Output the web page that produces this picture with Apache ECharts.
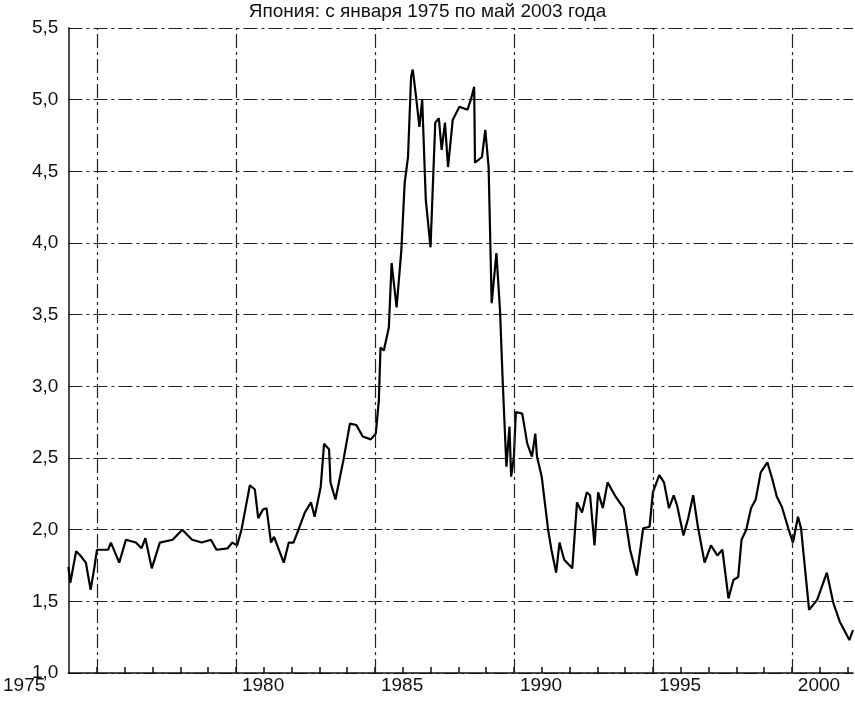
<!DOCTYPE html>
<html><head><meta charset="utf-8">
<script src="https://cdn.jsdelivr.net/npm/echarts@6/dist/echarts.min.js"></script>
<style>html,body{margin:0;background:#fff}#c{width:855px;height:719px}</style>
</head><body><div id="c"></div>
<script>
const titleText = 'Япония: с января 1975 по май 2003 года';
const years = [1973.97,1974.04,1974.25,1974.4,1974.6,1974.77,1974.9,1975.0,1975.4,1975.5,1975.8,1976.04,1976.4,1976.6,1976.74,1976.97,1977.26,1977.72,1978.07,1978.42,1978.77,1979.1,1979.3,1979.7,1979.87,1980.04,1980.2,1980.5,1980.68,1980.8,1980.97,1981.1,1981.26,1981.37,1981.72,1981.9,1982.07,1982.25,1982.48,1982.7,1982.83,1983.05,1983.17,1983.35,1983.4,1983.58,1983.87,1984.1,1984.33,1984.56,1984.85,1985.03,1985.14,1985.2,1985.32,1985.5,1985.6,1985.78,1985.95,1986.07,1986.19,1986.3,1986.36,1986.48,1986.6,1986.7,1986.83,1987.0,1987.17,1987.3,1987.4,1987.52,1987.63,1987.8,1988.04,1988.33,1988.45,1988.57,1988.6,1988.85,1988.97,1989.09,1989.2,1989.37,1989.5,1989.6,1989.73,1989.84,1989.9,1990.0,1990.07,1990.3,1990.48,1990.65,1990.77,1990.83,1991.0,1991.23,1991.35,1991.52,1991.64,1991.81,1992.1,1992.27,1992.45,1992.62,1992.74,1992.9,1993.03,1993.2,1993.37,1993.66,1993.95,1994.18,1994.42,1994.65,1994.88,1995.0,1995.23,1995.4,1995.58,1995.75,1995.87,1996.1,1996.27,1996.45,1996.62,1996.86,1997.09,1997.32,1997.5,1997.72,1997.9,1998.07,1998.19,1998.36,1998.53,1998.7,1998.88,1999.12,1999.3,1999.46,1999.64,1999.87,2000.04,2000.22,2000.33,2000.62,2000.91,2001.26,2001.49,2001.72,2002.07,2002.2];
const values = [1.74,1.63,1.85,1.82,1.77,1.58,1.73,1.86,1.86,1.91,1.77,1.93,1.91,1.87,1.94,1.73,1.91,1.93,2.0,1.93,1.91,1.93,1.86,1.87,1.91,1.89,2.0,2.31,2.28,2.08,2.14,2.15,1.91,1.95,1.77,1.91,1.91,2.0,2.12,2.19,2.09,2.30,2.6,2.56,2.33,2.21,2.49,2.74,2.73,2.65,2.63,2.67,2.9,3.27,3.25,3.41,3.86,3.55,3.95,4.42,4.60,5.16,5.21,5.02,4.81,5.0,4.30,3.97,4.84,4.87,4.65,4.84,4.53,4.86,4.95,4.93,5.0,5.09,4.56,4.60,4.79,4.53,3.58,3.93,3.53,3.02,2.44,2.72,2.37,2.51,2.82,2.81,2.60,2.51,2.67,2.51,2.37,2.0,1.86,1.70,1.91,1.79,1.73,2.19,2.12,2.26,2.24,1.89,2.26,2.15,2.33,2.23,2.15,1.86,1.68,2.01,2.02,2.26,2.38,2.33,2.15,2.24,2.17,1.96,2.08,2.24,2.02,1.77,1.89,1.82,1.86,1.52,1.65,1.67,1.93,2.0,2.15,2.21,2.40,2.47,2.35,2.23,2.16,2.01,1.91,2.09,2.01,1.44,1.51,1.70,1.49,1.36,1.23,1.30];
const labelYears = [1975,1980,1985,1990,1995,2000];
const tickYears = [1975,1976,1977,1978,1979,1980,1981,1982,1983,1984,1985,1986,1987,1988,1989,1990,1991,1992,1993,1994,1995,1996,1997,1998,1999,2000,2001,2002];

const chart = echarts.init(document.getElementById('c'));
const font = 'Liberation Sans, Arial, sans-serif';
chart.setOption({
  animation:false,
  title:{text:titleText,left:'center',top:-3,textStyle:{fontFamily:font,fontSize:19,fontWeight:'normal',color:'#111'}},
  grid:{left:42,right:2,top:28,bottom:46},
  xAxis:{type:'value',min:1973.97,max:2002.2,
    axisLine:{show:true,lineStyle:{color:'#111',width:1.5}},
    axisTick:{show:true,inside:true,length:6,customValues:tickYears,lineStyle:{color:'#111',width:1.5}},
    axisLabel:{customValues:labelYears,showMinLabel:true,showMaxLabel:true,align:'left',padding:[0,0,0,6],margin:3,fontFamily:font,fontSize:19,color:'#111',
      formatter:v=>Math.round(v)===1975?'{f|1975}':String(Math.round(v)),
      rich:{f:{fontFamily:font,fontSize:19,color:'#111',padding:[0,0,0,-100]}}},
    splitLine:{show:false}},
  yAxis:{type:'value',min:1,max:5.5,interval:0.5,
    axisLine:{show:true,lineStyle:{color:'#111',width:1.5}},
    axisTick:{show:true,inside:true,length:4,lineStyle:{color:'#111'}},
    axisLabel:{margin:10,fontFamily:font,fontSize:19,color:'#111',formatter:v=>v.toFixed(1).replace('.',',')},
    splitLine:{show:true,lineStyle:{color:'#222',type:[14,4,3,4],width:1.2}}},
  series:[{type:'line',data:years.map((y,i)=>[y,values[i]]),showSymbol:false,
    lineStyle:{color:'#000',width:2.2},
    markLine:{silent:true,symbol:'none',label:{show:false},
      lineStyle:{color:'#222',type:[14,4,3,4],width:1.2},
      data:labelYears.map(y=>({xAxis:y}))}}]
});
</script></body></html>
